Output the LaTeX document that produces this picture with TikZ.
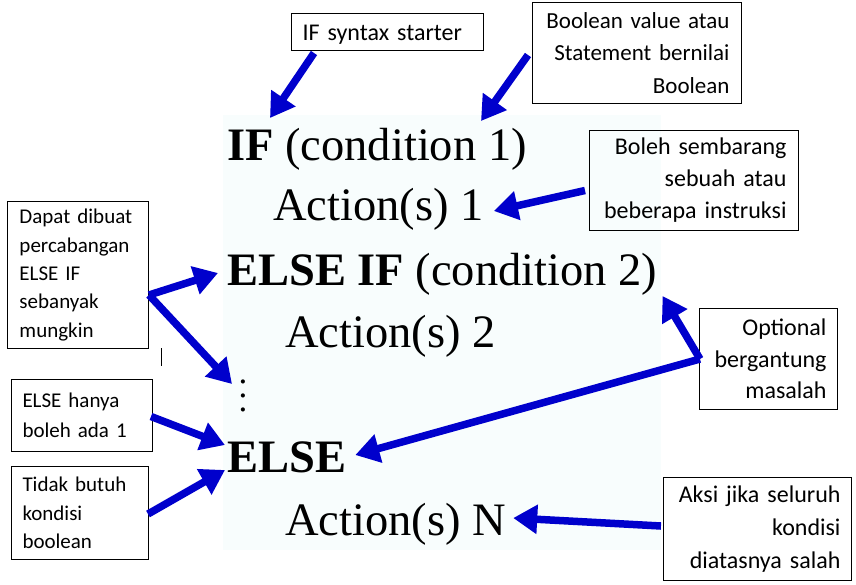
\documentclass[tikz,border=0pt]{standalone}
\usepackage{fontspec}
\usepackage{graphicx}
\setmainfont{Liberation Serif}
\newfontfamily\notefont{Carlito}
\usetikzlibrary{arrows.meta,calc}
\definecolor{arrowblue}{RGB}{0,0,204}
\definecolor{paleback}{RGB}{248,253,253}
\tikzset{
  code/.style={
    inner sep=0pt,
    anchor=base west,
    font=\fontsize{46.5}{50}\selectfont
  },
  note/.style={
    draw,
    rectangle,
    line width=1pt,
    anchor=north west,
    inner ysep=2pt,
    inner xsep=11pt
  },
  noteleft/.style={note,align=left,font=\notefont\fontsize{21}{28.5}\selectfont},
  noteright/.style={note,align=right,font=\notefont\fontsize{24}{32}\selectfont},
  line/.style={-{Triangle[length=24pt,width=28pt]},line width=7.5pt,color=arrowblue}
}

\begin{document}
\begin{tikzpicture}[x=1pt,y=-1pt]
  \useasboundingbox (0,0) rectangle (856,584);
  \fill[paleback] (223,115) rectangle (661,550);

  % syntax lines
  \node[code] (cond1) at (227,160) {\textbf{IF} (condition 1)};
  \node[code] (act1) at (273,220) {Action(s) 1};
  \node[code] (cond2) at (227,285) {\textbf{ELSE IF} (condition 2)};
  \node[code] (act2) at (285,347) {Action(s) 2};
  \node[inner sep=0pt] (dots) at (243,385) {\scalebox{3.5}{$\vdots$}};
  \node[code] (else) at (227,472) {\textbf{ELSE}};
  \node[code] (actN) at (285,535) {Action(s) N};

  % notes
  \node[note,align=left,text width=170pt,text height=21pt,text depth=5pt,minimum height=37pt,font=\notefont\fontsize{24}{30}\selectfont] (starter) at (291,13) {IF syntax starter};
  \node[noteright,inner xsep=12pt,text width=185pt,minimum height=101pt,font=\notefont\fontsize{23}{32.5}\selectfont] (boolnote) at (532,2) {Boolean value atau\\Statement bernilai\\Boolean};
  \node[noteright,inner xsep=12pt,text width=185pt,minimum height=100pt] (anynote) at (589,130) {Boleh sembarang\\sebuah atau\\beberapa instruksi};
  \node[noteleft,inner xsep=12pt,text width=117pt,minimum height=147pt,font=\notefont\fontsize{21}{28.3}\selectfont] (branchnote) at (7,201) {Dapat dibuat\\percabangan\\ELSE IF\\sebanyak\\mungkin};
  \node[noteleft,text width=119pt,minimum height=72pt,font=\notefont\fontsize{21}{30}\selectfont] (onenote) at (11,379) {ELSE hanya\\boleh ada 1};
  \node[noteleft,text width=115pt,minimum height=93pt] (nocondnote) at (11,466) {Tidak butuh\\kondisi\\boolean};
  \node[noteright,text width=116pt,minimum height=101pt,font=\notefont\fontsize{24}{31.5}\selectfont] (optnote) at (699,308) {Optional\\bergantung\\masalah};
  \node[noteright,text width=166pt,minimum height=103pt,font=\notefont\fontsize{24}{33}\selectfont] (restnote) at (663,477) {Aksi jika seluruh\\kondisi\\diatasnya salah};

  \draw[line width=1pt] (161,348) -- (161,366);

  % arrows
  \draw[line] ($(starter.south west)+(23,2)$) -- ($(cond1.base west)+(43,-42)$);
  \draw[line] ($(boolnote.west)+(-4,2)$) -- ($(cond1.base west)+(254,-39)$);
  \draw[line] ($(anynote.west)+(-4,10)$) -- ($(act1.base east)+(10,-9)$);
  \draw[line] ($(branchnote.east)+(0,20)$) -- ($(cond2.base west)+(-9,-12)$);
  \draw[line] ($(branchnote.east)+(0,20)$) -- ($(dots.center)+(-11,-1)$);
  \draw[line] ($(onenote.east)+(-2,1)$) -- ($(else.base west)+(-2,-27)$);
  \draw[line] ($(nocondnote.east)+(-1,1)$) -- ($(else.base west)+(-2,-2)$);
  \draw[line] ($(optnote.west)+(1,0)$) -- ($(cond2.base east)+(5,11)$);
  \draw[line] ($(optnote.west)+(1,0)$) -- ($(else.base east)+(9,-17)$);
  \draw[line] ($(restnote.west)+(-2,-3)$) -- ($(actN.base east)+(7,-17)$);
\end{tikzpicture}
\end{document}
